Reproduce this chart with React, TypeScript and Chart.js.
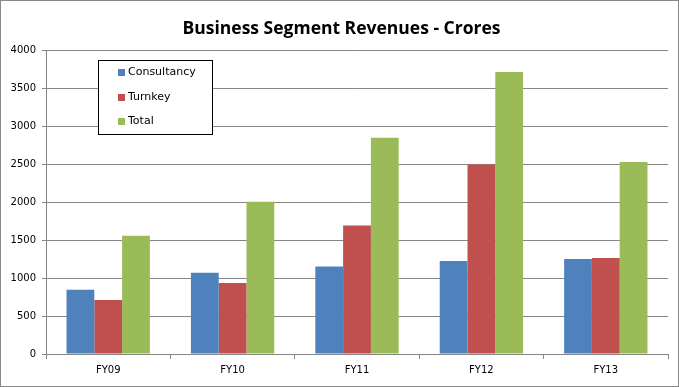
import React, { useEffect, useRef } from "react";
import { Chart, registerables } from "chart.js";

Chart.register(...registerables);

const categories = ["FY09", "FY10", "FY11", "FY12", "FY13"];
const consultancy = [845, 1068, 1150, 1225, 1250];
const turnkey = [712, 935, 1690, 2492, 1263];
const total = [1557, 2003, 2845, 3712, 2525];
const yTicks = [0, 500, 1000, 1500, 2000, 2500, 3000, 3500, 4000];

const W = 679;
const H = 387;

const borderPlugin = {
  id: "outerBorder",
  afterDraw(chart: any) {
    const ctx = chart.ctx;
    ctx.save();
    ctx.strokeStyle = "#888888";
    ctx.lineWidth = 1;
    ctx.strokeRect(0.5, 0.5, W - 1, H - 1);
    ctx.restore();
  },
};

const titleShiftPlugin = {
  id: "titleShift",
  afterLayout(chart: any) {
    const t = chart.titleBlock;
    if (t) {
      t.left += 7.5;
      t.right += 7.5;
    }
  },
};

const legendPlugin = {
  id: "insideLegend",
  afterDraw(chart: any) {
    const ctx = chart.ctx;
    ctx.save();
    const x0 = 98, y0 = 60, w = 114, h = 74;
    ctx.fillStyle = "#ffffff";
    ctx.fillRect(x0, y0, w, h);
    ctx.strokeStyle = "#000000";
    ctx.lineWidth = 1;
    ctx.strokeRect(x0 + 0.5, y0 + 0.5, w, h);
    const rows = [72.5, 97.5, 121.5];
    ctx.font = "11px 'DejaVu Sans'";
    ctx.textBaseline = "middle";
    chart.data.datasets.forEach((ds: any, i: number) => {
      ctx.fillStyle = ds.backgroundColor;
      ctx.fillRect(118, rows[i] - 3.5, 7, 7);
      ctx.fillStyle = "#000000";
      ctx.fillText(ds.label, 128, rows[i]);
    });
    ctx.restore();
  },
};

export default function App() {
  const ref = useRef<HTMLCanvasElement>(null);
  useEffect(() => {
    document.body.style.margin = "0";
    const chart = new Chart(ref.current!, {
      type: "bar",
      data: {
        labels: categories,
        datasets: [
          { label: "Consultancy", data: consultancy, backgroundColor: "#4F81BD" },
          { label: "Turnkey", data: turnkey, backgroundColor: "#C0504D" },
          { label: "Total", data: total, backgroundColor: "#9BBB59" },
        ],
      },
      options: {
        responsive: false,
        animation: false,
        layout: { padding: { left: 0, right: 11, top: 0, bottom: 0 } },
        datasets: {
          bar: { barPercentage: 1, categoryPercentage: 0.67 },
        },
        plugins: {
          legend: { display: false },
          tooltip: { enabled: false },
          title: {
            display: true,
            text: "Business Segment Revenues - Crores",
            color: "#000000",
            font: { family: "'Open Sans'", size: 17.5, weight: "bold" },
            padding: { top: 19, bottom: 10 },
          },
        },
        scales: {
          x: {
            grid: {
              offset: true,
              drawOnChartArea: false,
              drawTicks: true,
              tickLength: 5,
              color: "#868686",
            },
            border: { color: "#868686" },
            ticks: {
              color: "#000000",
              font: { family: "'DejaVu Sans'", size: 10 },
              padding: 5,
            },
            afterFit: (s: any) => {
              s.height = 33;
            },
          },
          y: {
            min: 0,
            max: 4000,
            afterBuildTicks: (s: any) => {
              s.ticks = yTicks.map((v) => ({ value: v }));
            },
            grid: {
              color: "#868686",
              drawTicks: true,
              tickLength: 4,
            },
            border: { color: "#868686" },
            ticks: {
              color: "#000000",
              font: { family: "'DejaVu Sans'", size: 10 },
              padding: 6,
              callback: (v: any) => String(v),
            },
            afterFit: (s: any) => {
              s.width = 46;
            },
          },
        },
      },
      plugins: [titleShiftPlugin, legendPlugin, borderPlugin],
    });
    return () => chart.destroy();
  }, []);
  return (
    <canvas
      ref={ref}
      width={W}
      height={H}
      style={{ display: "block", width: W, height: H }}
    />
  );
}
